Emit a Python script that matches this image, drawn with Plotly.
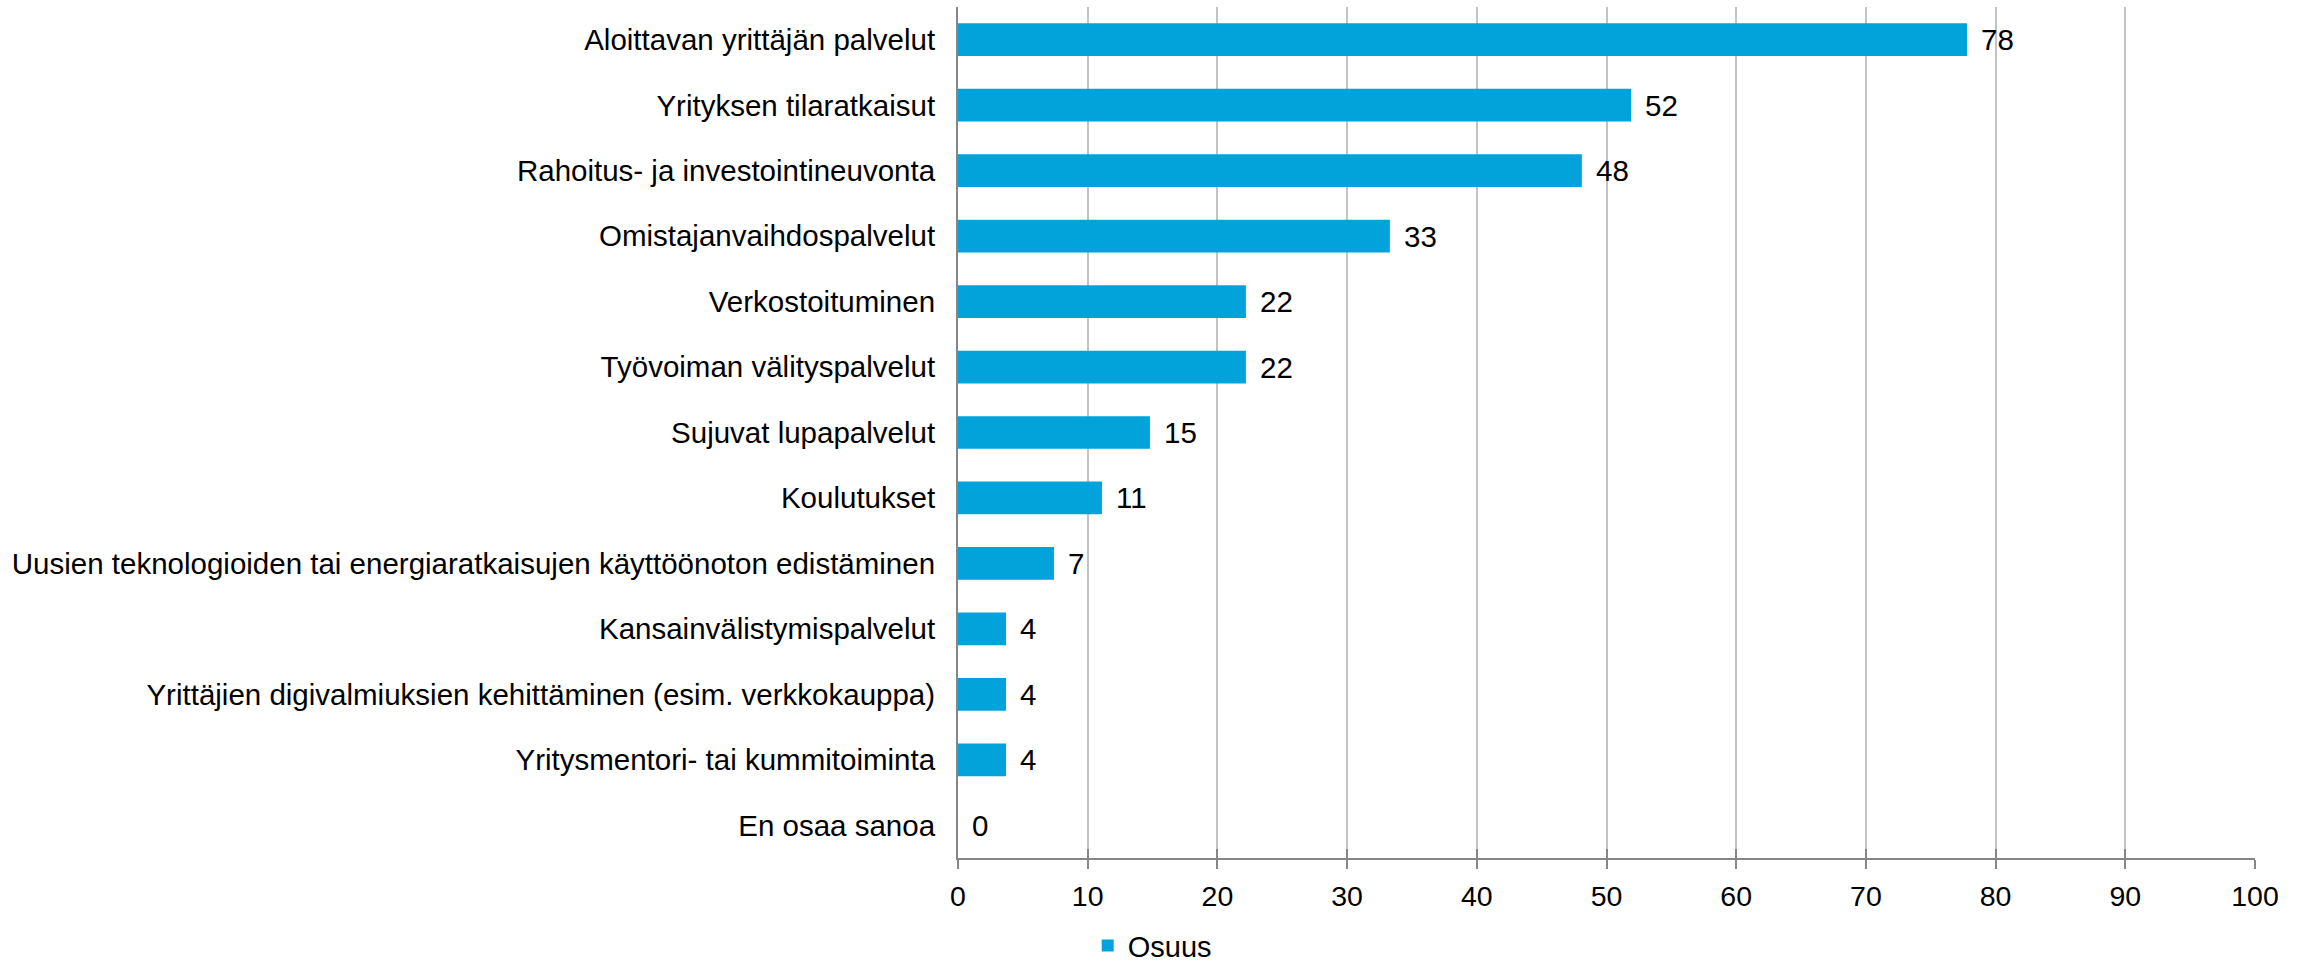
import plotly.graph_objects as go

# Palveluiden osuudet (%), järjestyksessä ylhäältä alas
categories = [
    "Aloittavan yrittäjän palvelut",
    "Yrityksen tilaratkaisut",
    "Rahoitus- ja investointineuvonta",
    "Omistajanvaihdospalvelut",
    "Verkostoituminen",
    "Työvoiman välityspalvelut",
    "Sujuvat lupapalvelut",
    "Koulutukset",
    "Uusien teknologioiden tai energiaratkaisujen käyttöönoton edistäminen",
    "Kansainvälistymispalvelut",
    "Yrittäjien digivalmiuksien kehittäminen (esim. verkkokauppa)",
    "Yritysmentori- tai kummitoiminta",
    "En osaa sanoa",
]
osuus = [77.8, 51.9, 48.1, 33.3, 22.2, 22.2, 14.8, 11.1, 7.4, 3.7, 3.7, 3.7, 0.0]
x_ticks = [0, 10, 20, 30, 40, 50, 60, 70, 80, 90, 100]
series_name = "Osuus"

FONT = "Liberation Sans, Arial, sans-serif"
BAR_COLOR = "#02A3DA"
AXIS_COLOR = "#868686"
GRID_COLOR = "#C3C3C3"

fig = go.Figure()
fig.add_trace(go.Bar(
    x=osuus,
    y=categories,
    orientation="h",
    name=series_name,
    marker=dict(color=BAR_COLOR, line=dict(width=0)),
    showlegend=True,
))
# tyhjä apusarja, jotta akselin yläpuolinen tikkirivi piirtyy
fig.add_trace(go.Scatter(x=[None], y=[None], xaxis="x2", mode="markers",
                         showlegend=False, hoverinfo="skip"))

# arvotunnisteet pylväiden perään
for cat, val in zip(categories, osuus):
    fig.add_annotation(
        x=val, y=cat, xref="x", yref="y",
        text=f"{val:.0f}", showarrow=False,
        xanchor="left", yanchor="middle", xshift=12,
        font=dict(family=FONT, size=29.5, color="#000000"),
    )

fig.update_layout(
    width=2307, height=963,
    margin=dict(l=958, r=52, t=7, b=105, autoexpand=False),
    paper_bgcolor="white", plot_bgcolor="white",
    bargap=0.5,
    font=dict(family=FONT, size=28, color="#000000"),
    legend=dict(
        orientation="h", x=0.1, xanchor="left", y=-0.103, yanchor="middle",
        font=dict(family=FONT, size=29, color="#000000"),
        itemwidth=30, bgcolor="rgba(0,0,0,0)",
    ),
    xaxis=dict(
        range=[0, 100], tickvals=x_ticks,
        showgrid=True, gridcolor=GRID_COLOR, gridwidth=2,
        showline=True, linecolor=AXIS_COLOR, linewidth=2,
        ticks="outside", ticklen=9, tickwidth=2, tickcolor=AXIS_COLOR,
        ticklabelstandoff=3,
        tickfont=dict(family=FONT, size=28.5, color="#000000"),
        zeroline=False, fixedrange=True,
    ),
    xaxis2=dict(
        range=[0, 100], tickvals=x_ticks, overlaying="x", anchor="y", side="bottom",
        showgrid=False, showline=False, showticklabels=False,
        ticks="inside", ticklen=9, tickwidth=2, tickcolor=AXIS_COLOR,
        zeroline=False, fixedrange=True,
    ),
    yaxis=dict(
        categoryorder="array", categoryarray=categories,
        range=[len(categories) - 0.5, -0.5],
        showgrid=False, showline=True, linecolor=AXIS_COLOR, linewidth=2,
        ticks="", ticklabelstandoff=15,
        tickfont=dict(family=FONT, size=29.5, color="#000000"),
        zeroline=False, fixedrange=True,
    ),
)

fig.write_html("out.html")
